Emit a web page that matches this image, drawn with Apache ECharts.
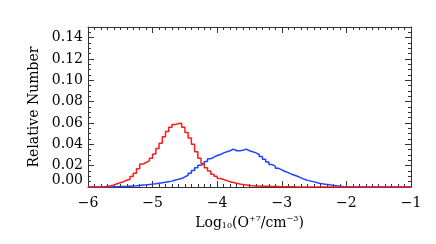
<!DOCTYPE html>
<html><head><meta charset="utf-8">
<script src="https://cdn.jsdelivr.net/npm/echarts@6/dist/echarts.min.js"></script>
<style>html,body{margin:0;padding:0;background:#fff}#c{width:436px;height:244px}</style>
</head><body><div id="c"></div>
<script>
// Histogram bins: left edges start at binStart, width binWidth
var binStart = -6.0;
var binWidth = 0.05;
var redValues = [
 0,0,0,0,0.0003,0.0006,0.0012,0.002,0.003,0.004,
 0.005,0.0063,0.0072,0.0098,0.013,0.017,0.0215,0.023,0.0245,0.027,
 0.031,0.036,0.041,0.047,0.052,0.056,0.0585,0.0595,0.0598,0.056,
 0.051,0.046,0.040,0.033,0.027,0.022,0.018,0.015,0.012,0.010,
 0.008,0.007,0.006,0.005,0.0042,0.0035,0.0028,0.0023,0.0019,0.0015,
 0.0012,0.001,0.0009,0.0008,0.0007,0.0006,0.0005,0.0004,0.0004,0.0003,
 0.0003,0.0002,0.0002,0.0002,0.0001,0.0001,0.0001,0.0001,0.0001,0.0001,
 0,0,0,0,0,0,0,0,0,0,
 0,0,0,0,0,0,0,0,0,0,
 0,0,0,0,0,0,0,0,0,0
];
var blueValues = [
 0,0,0,0,0,0,0.0001,0.0002,0.0003,0.0004,
 0.0005,0.0006,0.0008,0.001,0.0012,0.0015,0.0018,0.002,0.0023,0.0027,
 0.003,0.0035,0.004,0.0045,0.005,0.0055,0.0065,0.0072,0.008,0.0095,
 0.011,0.013,0.0155,0.018,0.0205,0.022,0.024,0.0265,0.028,0.0295,
 0.0305,0.032,0.033,0.034,0.0355,0.034,0.034,0.0345,0.0355,0.034,
 0.033,0.032,0.0305,0.0285,0.026,0.0235,0.021,0.0195,0.0175,0.016,
 0.0145,0.0135,0.012,0.011,0.0098,0.0085,0.0072,0.0062,0.0055,0.0048,
 0.004,0.0033,0.0028,0.0024,0.002,0.0015,0.0011,0.0008,0.0005,0.0003,
 0.0001,0,0,0,0,0,0,0,0,0,
 0,0,0,0,0,0,0,0,0,0
];
var xTicks = [-6,-5,-4,-3,-2,-1];
var yTicks = [0.00,0.02,0.04,0.06,0.08,0.10,0.12,0.14];

function toSteps(vals){
  var d = [];
  for (var i=0;i<vals.length;i++) d.push([binStart + binWidth*i, vals[i]]);
  d.push([binStart + binWidth*vals.length, vals[vals.length-1]]);
  return d;
}
var FONT = '"DejaVu Serif", "Liberation Serif", serif';
var AX = '#333';
var chart = echarts.init(document.getElementById('c'), null, {renderer:'canvas'});
function xAx(pos, show){
  return {
    type:'value', position:pos, min:-6, max:-1, interval:1,
    axisLine:{show:true, onZero:false, lineStyle:{color:AX, width:1}},
    axisTick:{show:true, inside:true, length:6, lineStyle:{color:AX}},
    minorTick:{show:true, splitNumber:10, length:3, lineStyle:{color:AX}},
    splitLine:{show:false},
    axisLabel:{show:show, color:'#000', fontFamily:FONT, fontSize:14, margin:9,
      formatter:function(v){ return xTicks.indexOf(v)>=0 ? String(v).replace('-', '\u2212') : ''; }},
    name: show ? '{a|Log}{s|10}{a|(O}{p|+7}{a|/cm}{p|\u22123}{a|)}' : '',
    nameLocation:'middle', nameGap:26,
    nameTextStyle:{ rich:{
      a:{fontFamily:FONT, fontSize:14, color:'#000'},
      s:{fontFamily:FONT, fontSize:8, color:'#000', padding:[6,0,0,0]},
      p:{fontFamily:FONT, fontSize:8, color:'#000', padding:[0,0,8,0]}
    }}
  };
}
function yAx(pos, show){
  return {
    type:'value', position:pos, min:0, max:0.15, interval:0.02,
    axisLine:{show:true, onZero:false, lineStyle:{color:AX, width:1}},
    axisTick:{show:true, inside:true, length:6, lineStyle:{color:AX}},
    minorTick:{show:true, splitNumber:4, length:3, lineStyle:{color:AX}},
    splitLine:{show:false},
    axisLabel:{show:show, color:'#000', fontFamily:FONT, fontSize:14, margin:5,
      showMaxLabel:false, showMinLabel:true, hideOverlap:false,
      verticalAlignMinLabel:'bottom',
      formatter:function(v){ return v.toFixed(2); }},
    name: show ? 'Relative Number' : '',
    nameLocation:'middle', nameGap:47, nameRotate:90,
    nameTextStyle:{fontFamily:FONT, fontSize:14, color:'#000'}
  };
}
chart.setOption({
  animation:false,
  backgroundColor:'#fff',
  grid:{left:88, right:25, top:27, bottom:57, containLabel:false},
  xAxis:[xAx('bottom', true), xAx('top', false)],
  yAxis:[yAx('left', true), yAx('right', false)],
  series:[
    {type:'line', step:'end', data:toSteps(blueValues), symbol:'none',
     lineStyle:{color:'#1f45ff', width:1.5}, xAxisIndex:0, yAxisIndex:0},
    {type:'line', step:'end', data:toSteps(redValues), symbol:'none',
     lineStyle:{color:'#ff1a1a', width:1.5}, xAxisIndex:0, yAxisIndex:0}
  ]
});
</script></body></html>
